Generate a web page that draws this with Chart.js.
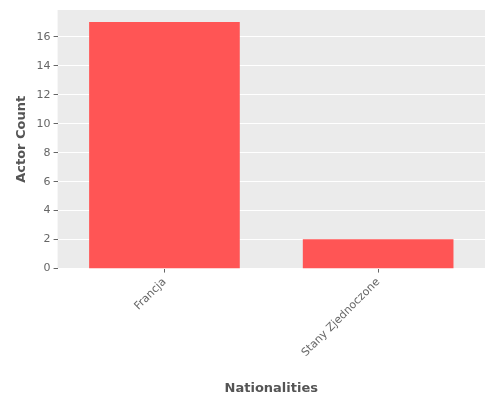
<!DOCTYPE html>
<html><head><script src="https://cdn.jsdelivr.net/npm/chart.js@4"></script>
<style>body{margin:0;background:#fff}#w{width:500px;height:400px}</style></head>
<body><div id="w"><canvas id="c"></canvas></div>
<script>
const categories = ["Francja", "Stany Zjednoczone"];
const counts = [17, 2];
const bg = {id:'bg',beforeDraw(ch){const a=ch.chartArea,x=ch.ctx;x.save();x.fillStyle='#EBEBEB';x.fillRect(a.left,a.top,a.right-a.left,a.bottom-a.top);x.restore();}};
new Chart(document.getElementById('c'), {
  type: 'bar',
  data: { labels: categories, datasets: [{ data: counts, backgroundColor: '#FF5555', barThickness: 150 }] },
  options: {
    responsive: true, maintainAspectRatio: false, animation: false,
    layout: { padding: { top: 10, right: 15, left: 10 } },
    plugins: { legend: { display: false }, tooltip: { enabled: false } },
    scales: {
      x: {
        ticks: { maxRotation: 45, minRotation: 45, color: '#666', font: { family: 'DejaVu Sans', size: 11 } },
        grid: { offset: false, color: '#fff', tickColor: '#666', tickLength: 4, drawOnChartArea: false },
        border: { display: false },
        title: { display: true, text: 'Nationalities', color: '#555', font: { family: 'DejaVu Sans', size: 13, weight: 'bold' }, padding: { top: 18 } } },
      y: { min: 0, max: 17.85,
        ticks: { stepSize: 2, color: '#666', font: { family: 'DejaVu Sans', size: 11 } },
        afterBuildTicks: s => { s.ticks = [0,2,4,6,8,10,12,14,16].map(v=>({value:v})); },
        grid: { color: '#fff', tickColor: '#666', tickLength: 4 },
        border: { display: false },
        title: { display: true, text: 'Actor Count', color: '#555', font: { family: 'DejaVu Sans', size: 13, weight: 'bold' } } }
    }
  },
  plugins: [bg]
});
</script></body></html>
